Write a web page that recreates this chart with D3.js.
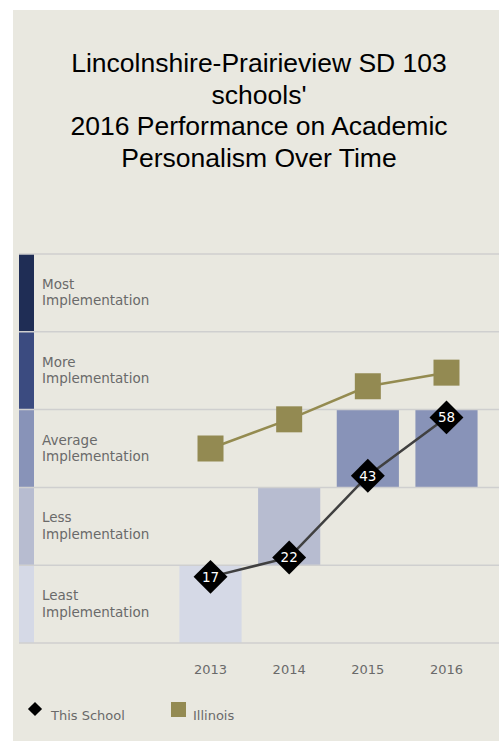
<!DOCTYPE html>
<html>
<head>
    <title>Academic Personalism Over Time</title>
    <script src="https://d3js.org/d3.v7.min.js"></script>
    <style>
        body { margin: 0; background: #fff; }
    </style>
</head>
<body>
    <svg id="chart" width="499" height="741"></svg>
    <script>
        // data
        var years = ["2013", "2014", "2015", "2016"];
        var schoolScores = [17, 22, 43, 58];
        var illinoisScores = [50, 57.5, 66, 69.5];
        var levels = ["Least", "Less", "Average", "More", "Most"];
        var levelColors = ["#d5d9e6", "#b7bcd0", "#8893b8", "#3b4b80", "#1f2d55"];
        var titleLines = ["Lincolnshire-Prairieview SD 103", "schools'", "2016 Performance on Academic", "Personalism Over Time"];

        var svg = d3.select("#chart");

        // panel background
        svg.append("rect").attr("x", 13).attr("y", 10).attr("width", 486).attr("height", 731).attr("fill", "#e9e8e0");

        // title
        svg.append("g").selectAll("text").data(titleLines).enter().append("text")
            .attr("x", 259).attr("y", function(d, i) { return 72 + i * 31.5; })
            .attr("text-anchor", "middle")
            .style("font-family", "Liberation Sans, Arial, sans-serif")
            .style("font-size", "26.5px")
            .attr("fill", "#000")
            .text(function(d) { return d; });

        var y = d3.scaleLinear().domain([0, 100]).range([643, 254]);
        var x = d3.scaleBand().domain(years).range([170, 487]).paddingInner(0.21).paddingOuter(0.12);

        // band boundaries
        var bands = levels.map(function(l, i) { return { name: l, lo: i * 20, hi: (i + 1) * 20, color: levelColors[i] }; });

        svg.append("g").selectAll("rect").data(bands).enter().append("rect")
            .attr("x", 19).attr("width", 15)
            .attr("y", function(d) { return y(d.hi); })
            .attr("height", function(d) { return y(d.lo) - y(d.hi); })
            .attr("fill", function(d) { return d.color; });

        // bars showing the school's level
        function levelOf(v) { return Math.min(4, Math.floor(v / 20)); }
        svg.append("g").selectAll("rect").data(schoolScores).enter().append("rect")
            .attr("x", function(d, i) { return x(years[i]); })
            .attr("width", x.bandwidth())
            .attr("y", function(d) { return y((levelOf(d) + 1) * 20); })
            .attr("height", y(0) - y(20))
            .attr("fill", function(d) { return levelColors[levelOf(d)]; });

        // grid lines
        svg.append("g").selectAll("line").data([0, 20, 40, 60, 80, 100]).enter().append("line")
            .attr("x1", 19).attr("x2", 499)
            .attr("y1", function(d) { return y(d); }).attr("y2", function(d) { return y(d); })
            .attr("stroke", "#cfcfcf").attr("stroke-width", 1.5);

        // band labels
        var lab = svg.append("g").selectAll("text").data(bands).enter().append("text")
            .attr("x", 42)
            .attr("y", function(d) { return (y(d.hi) + y(d.lo)) / 2 - 4; })
            .style("font-family", "DejaVu Sans, Verdana, sans-serif")
            .style("font-size", "13.5px")
            .attr("fill", "#6a6a6a");
        lab.append("tspan").attr("x", 42).text(function(d) { return d.name; });
        lab.append("tspan").attr("x", 42).attr("dy", 16.5).text("Implementation");

        // x axis labels
        svg.append("g").selectAll("text").data(years).enter().append("text")
            .attr("x", function(d) { return x(d) + x.bandwidth() / 2; })
            .attr("y", 674)
            .attr("text-anchor", "middle")
            .style("font-family", "DejaVu Sans, Verdana, sans-serif")
            .style("font-size", "13px")
            .attr("fill", "#6a6a6a")
            .text(function(d) { return d; });

        var cx = function(i) { return x(years[i]) + x.bandwidth() / 2; };
        var line = d3.line().x(function(d, i) { return cx(i); }).y(function(d) { return y(d); });

        // Illinois
        svg.append("path").datum(illinoisScores).attr("d", line)
            .attr("fill", "none").attr("stroke", "#948b50").attr("stroke-width", 2.5);
        svg.append("g").selectAll("rect").data(illinoisScores).enter().append("rect")
            .attr("x", function(d, i) { return cx(i) - 13; })
            .attr("y", function(d) { return y(d) - 13; })
            .attr("width", 26).attr("height", 26)
            .attr("fill", "#938a52");

        // This school
        svg.append("path").datum(schoolScores).attr("d", line)
            .attr("fill", "none").attr("stroke", "#404040").attr("stroke-width", 2.5);
        var pts = svg.append("g").selectAll("g").data(schoolScores).enter().append("g")
            .attr("transform", function(d, i) { return "translate(" + cx(i) + "," + y(d) + ")"; });
        pts.append("rect").attr("x", -12).attr("y", -12).attr("width", 24).attr("height", 24)
            .attr("transform", "rotate(45)").attr("fill", "#000");
        pts.append("text").attr("text-anchor", "middle").attr("dy", "0.36em")
            .style("font-family", "DejaVu Sans, Verdana, sans-serif")
            .style("font-size", "13.5px")
            .attr("fill", "#fff")
            .text(function(d) { return d; });

        // legend
        var lg = svg.append("g");
        lg.append("rect").attr("x", -5).attr("y", -5).attr("width", 10).attr("height", 10)
            .attr("transform", "translate(35,709) rotate(45)").attr("fill", "#000");
        lg.append("text").attr("x", 51).attr("y", 720)
            .style("font-family", "DejaVu Sans, Verdana, sans-serif").style("font-size", "13px")
            .attr("fill", "#6a6a6a").text("This School");
        lg.append("rect").attr("x", 171).attr("y", 702).attr("width", 15).attr("height", 15).attr("fill", "#938a52");
        lg.append("text").attr("x", 193).attr("y", 720)
            .style("font-family", "DejaVu Sans, Verdana, sans-serif").style("font-size", "13px")
            .attr("fill", "#6a6a6a").text("Illinois");
    </script>
</body>
</html>
